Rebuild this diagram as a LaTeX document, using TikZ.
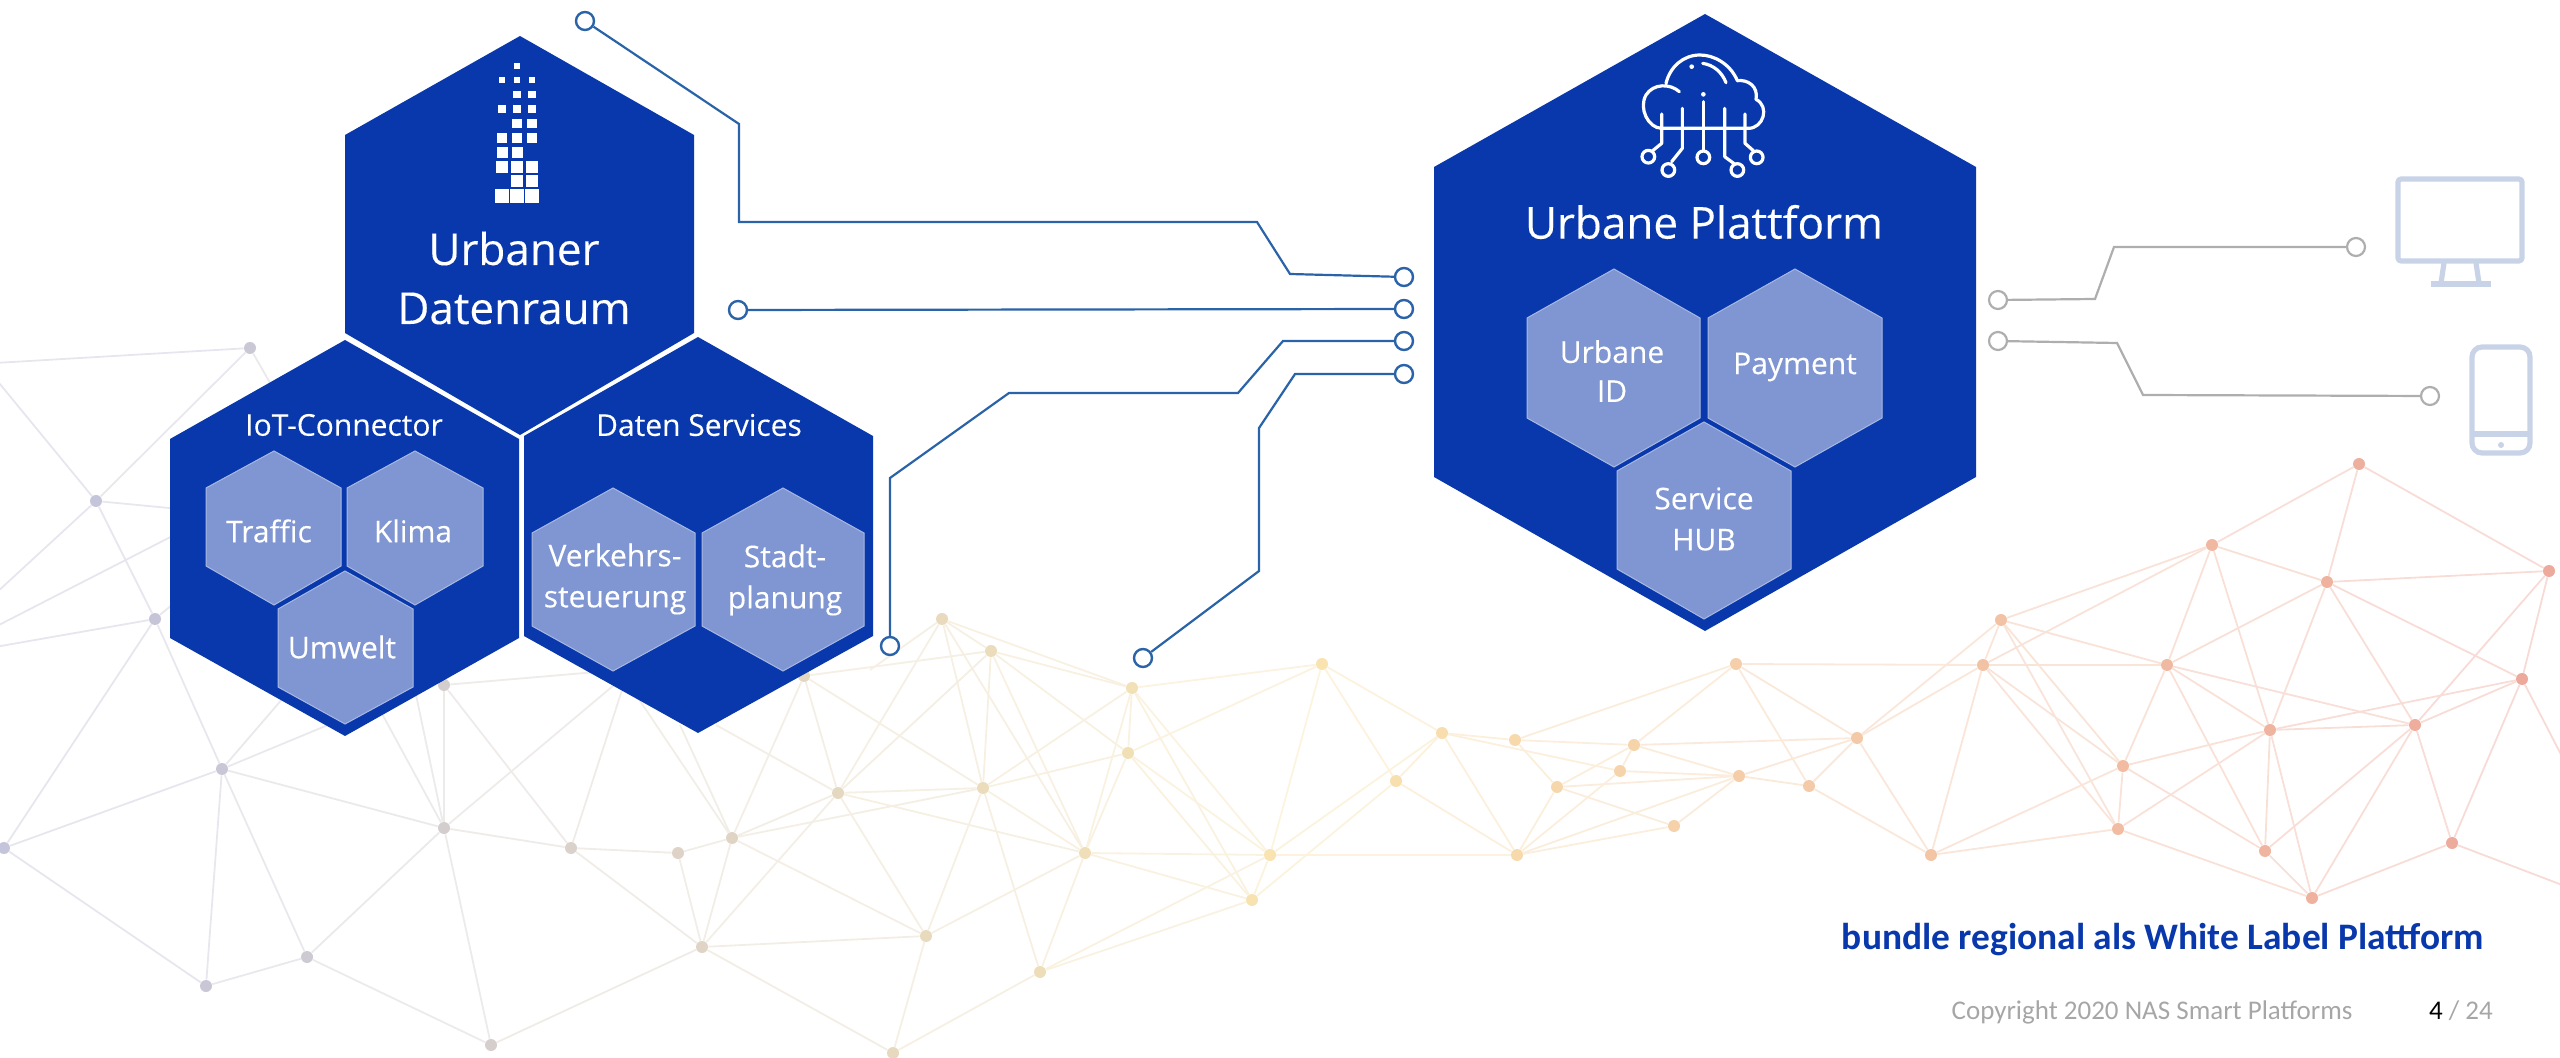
\documentclass[tikz,border=0pt]{standalone}
\usepackage{fontspec}
\setmainfont[FakeBold=0.2]{Open Sans}
\newfontfamily\calibrifont{Carlito}
\usetikzlibrary{calc}

\definecolor{hexblue}{HTML}{0838AB}
\definecolor{hexpale}{HTML}{7F96D2}
\definecolor{hexedge}{HTML}{A9B8E2}
\definecolor{wireblue}{HTML}{2A63A8}
\definecolor{wiregray}{HTML}{AEAEAE}
\definecolor{deviceblue}{HTML}{C8D3E8}
\definecolor{netleft}{HTML}{C4C4DA}
\definecolor{netmid}{HTML}{F9E4B0}
\definecolor{netright}{HTML}{EDA99C}

\newcommand{\netcolor}[1]{%
  \pgfmathsetmacro\netpct{min(100,abs(#1-650)/600*100)}%
  \ifdim#1pt<650pt\colorlet{netcur}{netleft!\netpct!netmid}\else\colorlet{netcur}{netright!\netpct!netmid}\fi}

\tikzset{
  hexdark/.style={fill=hexblue},
  hexlight/.style={fill=hexpale, draw=hexedge, line width=.5pt},
  hextext/.style={text=white, align=center, inner sep=0pt, font=\fontsize{15}{20.5}\selectfont},
  hexbig/.style={text=white, align=center, inner sep=0pt, font=\fontsize{22}{29.5}\selectfont},
  netdot/.style={circle, fill=netcur, inner sep=0pt, minimum size=6pt},
  netline/.style={draw=netcur!42!white, line width=.9pt},
  portblue/.style={circle, draw=wireblue, fill=white, line width=1.2pt, inner sep=0pt, minimum size=9pt},
  portgray/.style={circle, draw=wiregray, fill=white, line width=1.1pt, inner sep=0pt, minimum size=9pt},
  wireblue/.style={draw=wireblue, line width=1.1pt},
  wiregray/.style={draw=wiregray, line width=1.1pt},
  device/.style={draw=deviceblue, line width=2.6pt, line join=round},
}

\begin{document}
\begin{tikzpicture}[x=.5pt, y=-.5pt]
  \useasboundingbox (0,0) rectangle (2560,1058);

  % network in the background
  \foreach \n/\x/\y in {f1/-5/363, f2/-5/378, f3/-5/594, f4/-5/627, f5/-5/647,
      h1/190/510, h2/190/527, h3/190/590, h4/290/690, h5/340/720, h6/380/710, h7/415/690,
      h8/620/670, h9/620/680, h10/622/690, h11/636/695, h12/680/725, h13/716/725, h14/870/670,
      f6/2570/772, f7/2570/888}
    \coordinate (\n) at (\x,\y);
  \foreach \n/\x/\y in {l1/250/348, l2/96/501, l3/155/619, l4/222/769, l5/4/848, l6/206/986,
      l7/307/957, l8/444/828, l9/491/1045, l10/444/685, l11/571/848, l12/678/853, l13/732/838,
      l14/702/947, l15/838/793, l16/926/936, l17/893/1053, l18/804/676,
      y1/942/619, y2/991/651, y3/1132/688, y4/1128/753, y5/1322/664, y6/1442/733, y7/1396/781,
      y8/1515/740, y9/1634/745, y10/1620/771, y11/1557/787, y12/1739/776, y13/1674/826,
      y14/1517/855, y15/1270/855, y16/1252/900, y17/1085/853, y18/983/788, y21/1040/972, y23/1736/664,
      r1/2001/620, r2/1983/665, r3/1857/738, r4/1809/786, r5/1931/855, r6/2118/829, r7/2123/766,
      r8/2167/665, r9/2212/545, r10/2359/464, r11/2327/582, r12/2549/571, r13/2522/679,
      r14/2415/725, r15/2270/730, r16/2265/851, r17/2312/898, r18/2452/843} {
    \pgfmathsetmacro\netx{\x/2}
    \netcolor{\netx}
    \node[netdot] (\n) at (\x,\y) {};
  }
  \foreach \a/\b in {l1/f1, l1/l2, l1/l10, f2/l2, l2/f3, l2/l3, l3/l4, l2/h1, f4/h2, f5/l3, l3/h3,
      l4/l5, l4/l6, l4/l7, l4/l8, l3/l5, l4/h4, l4/h5, l5/l6, l6/l7, l7/l8, l8/l9, l8/l11, l8/l10,
      l8/h6, l8/h7, l10/l11, l10/h8, l8/h9, l11/l12, l11/l14, l11/h10, l12/l13, l12/l14, l13/l14,
      l13/h11, l13/h12, l13/l18, l13/l15, l13/y18, l13/l16, l9/l14, l7/l9, l14/l16, l14/l17, l14/l15,
      l15/l16, l16/l17, l17/y21, l15/l18, l15/y18, l15/h13,
      l18/y2, y1/h14, l18/y18, y1/y18, y1/l15, y1/y17, y1/y3, y1/y2, y2/y3, y2/y4, y2/y18, y2/y17,
      y2/l15, y3/y5, y3/y4, y3/y18, y3/y17, y3/y15, y3/y16, y4/y17, y4/y5, y4/y18, y4/y15, y4/y16,
      y5/y15, y5/y7, y5/y6, y6/y8, y6/y10, y6/y7, y6/y14, y6/y15, y7/y14, y7/y16, y8/y9, y8/y11,
      y8/y23, y9/y10, y9/y11, y9/y12, y9/y23, y9/r3, y10/y12, y10/y14, y11/y12, y11/y13, y11/y14,
      y12/y13, y12/y14, y13/y14, y12/r3, y12/r4, y15/y14, y15/y17, y15/y16, y15/y21, y16/y21, y16/y17,
      y17/l15, y17/l16, y17/y21, y17/y18, y18/l16, y18/y21, y23/r2, y23/r3, y23/r4,
      r1/r9, r1/r2, r1/r3, r1/r8, r1/r6, r1/r7, r2/r9, r2/r3, r2/r5, r2/r8, r2/r6, r2/r7, r3/r4, r3/r5,
      r4/r5, r5/r6, r5/r7, r6/r7, r6/r15, r6/r17, r7/r15, r7/r8, r7/r16, r8/r11, r8/r15, r8/r14, r8/r16,
      r8/r9, r9/r15, r9/r10, r9/r11, r10/r11, r10/r12, r11/r12, r11/r13, r11/r14, r11/r15, r12/r13,
      r12/r14, r13/r14, r13/r15, r13/r18, r13/f6, r14/r15, r14/r16, r14/r17, r14/r18, r15/r16, r15/r17,
      r16/r17, r17/r18, r18/f7} {
    \pgfpointanchor{\a}{center}\pgfgetlastxy{\xa}{\ya}
    \pgfpointanchor{\b}{center}\pgfgetlastxy{\xb}{\yb}
    \pgfmathsetmacro\netx{(\xa+\xb)/2}
    \netcolor{\netx}
    \draw[netline] (\a) -- (\b);
  }

  % large hexagons
  \path[hexdark] (520,36) -- (694,135) -- (694,333) -- (520,435) -- (345,333) -- (345,135) -- cycle;
  \path[hexdark] (345,340) -- (519,439) -- (519,638) -- (345,736) -- (170,638) -- (170,439) -- cycle;
  \path[hexdark] (698,337) -- (873,436) -- (873,636) -- (698,733) -- (524,636) -- (524,436) -- cycle;
  \path[hexdark] (1705,14) -- (1976,167) -- (1976,477) -- (1705,631) -- (1434,477) -- (1434,167) -- cycle;

  % small hexagons
  \path[hexlight] (274,451) -- (341,488) -- (341,566) -- (274,605) -- (206,566) -- (206,488) -- cycle;
  \path[hexlight] (415,451) -- (483,488) -- (483,566) -- (415,605) -- (347,566) -- (347,488) -- cycle;
  \path[hexlight] (345,571) -- (413,609) -- (413,687) -- (345,724) -- (278,687) -- (278,609) -- cycle;
  \path[hexlight] (613,488) -- (695,533) -- (695,626) -- (613,671) -- (532,626) -- (532,533) -- cycle;
  \path[hexlight] (783,488) -- (864,533) -- (864,626) -- (783,671) -- (702,626) -- (702,533) -- cycle;
  \path[hexlight] (1614,269) -- (1700,318) -- (1700,418) -- (1614,467) -- (1527,418) -- (1527,318) -- cycle;
  \path[hexlight] (1795,269) -- (1882,318) -- (1882,418) -- (1795,467) -- (1708,418) -- (1708,318) -- cycle;
  \path[hexlight] (1704,422) -- (1791,471) -- (1791,569) -- (1704,619) -- (1617,569) -- (1617,471) -- cycle;

  % labels
  \node[hexbig] (datenraum) at (514,278) {Urbaner\\Datenraum};
  \node[hexbig] (plattform) at (1704,222) {Urbane Plattform};
  \node[hextext] (iot) at (344,425) {IoT-Connector};
  \node[hextext] (services) at (699,425) {Daten Services};
  \node[hextext] (traffic) at (269,531) {Traffic};
  \node[hextext] (klima) at (413,531) {Klima};
  \node[hextext] (umwelt) at (342,647) {Umwelt};
  \node[hextext] (verkehr) at (615,579) {Verkehrs-\\steuerung};
  \node[hextext] (stadt) at (785,580) {Stadt-\\planung};
  \node[hextext, font=\fontsize{15}{19.5}\selectfont] (id) at (1612,371) {Urbane\\ID};
  \node[hextext] (payment) at (1795,367) {Payment};
  \node[hextext] (hub) at (1704,519) {Service\\HUB};

  % tower of squares
  \foreach \yy/\sz/\cols in {65.7/5.7/517, 80/6.7/{502,517,532}, 94.3/7.3/{517,532},
      108.7/8.3/{502,517,532}, 123.3/9.3/{517,532}, 138/10/{502,517,532}, 152.7/11/{502,517},
      167/11.7/{502,517,532}, 181.3/12.3/{517,532}, 196/13.7/{502,517,532}}
    \foreach \xx in \cols
      \fill[white] (\xx-\sz/2,\yy-\sz/2) rectangle (\xx+\sz/2,\yy+\sz/2);

  % cloud
  \begin{scope}[shift={(1620,30)}, x=.1667pt, y=-.1667pt, draw=white, line width=1.6pt, line cap=round, line join=round]
    \draw (178,185) .. controls (150,160) and (100,160) .. (78,195) .. controls (55,235) and (85,295) .. (125,295)
      -- (385,295) .. controls (430,295) and (450,230) .. (408,208) .. controls (415,170) and (385,148) .. (352,152)
      .. controls (330,100) and (280,75) .. (240,75) .. controls (190,75) and (150,110) .. (138,160);
    \draw (248,100) .. controls (280,105) and (305,125) .. (318,158);
    \fill[white] (215,110) circle (7);
    \fill[white] (250,193) circle (7);
    \draw (125,252) -- (125,340) -- (98,362);
    \draw (187,235) -- (187,355) -- (155,395);
    \draw (250,215) -- (250,360);
    \draw (314,235) -- (314,380) -- (345,403);
    \draw (375,252) -- (375,340) -- (400,362);
    \draw (85,380) circle (19);
    \draw (145,420) circle (19);
    \draw (250,382) circle (19);
    \draw (352,420) circle (19);
    \draw (410,382) circle (19);
  \end{scope}

  % wires
  \node[portblue] (pa) at (585,21) {};
  \node[portblue] (pb) at (738,310) {};
  \node[portblue] (pc) at (890,646) {};
  \node[portblue] (pd) at (1143,658) {};
  \node[portblue] (qa) at (1404,277) {};
  \node[portblue] (qb) at (1404,309) {};
  \node[portblue] (qc) at (1404,341) {};
  \node[portblue] (qd) at (1404,374) {};
  \draw[wireblue] (pa) -- (739,124) -- (739,222) -- (1257,222) -- (1290,274) -- (qa);
  \draw[wireblue] (pb) -- (qb);
  \draw[wireblue] (pc) -- (890,478) -- (1009,393) -- (1238,393) -- (1283,341) -- (qc);
  \draw[wireblue] (pd) -- (1259,571) -- (1259,428) -- (1295,374) -- (qd);

  \node[portgray] (ga) at (1998,300) {};
  \node[portgray] (gb) at (1998,341) {};
  \node[portgray] (gc) at (2356,247) {};
  \node[portgray] (gd) at (2430,396) {};
  \draw[wiregray] (ga) -- (2095,299) -- (2114,247) -- (gc);
  \draw[wiregray] (gb) -- (2117,343) -- (2143,395) -- (gd);

  % monitor and phone
  \draw[device, rounded corners=1.5pt] (2398,179) rectangle (2522,261);
  \draw[device] (2444,263) -- (2441,283) (2476,263) -- (2479,283);
  \draw[device] (2431,284) -- (2491,284);
  \draw[device, rounded corners=5pt] (2472,347) rectangle (2530,453);
  \draw[device] (2472,434) -- (2530,434);
  \fill[deviceblue] (2501,445) circle (3);

  % footer
  \node[text=hexblue, font=\calibrifont\bfseries\fontsize{18.7}{20}\selectfont, inner sep=0pt] (claim) at (2163,940) {bundle regional als White Label Plattform};
  \node[text=black!35, font=\calibrifont\fontsize{13.5}{16}\selectfont, inner sep=0pt] (copyright) at (2152,1012) {Copyright 2020 NAS Smart Platforms};
  \node[text=black!35, font=\calibrifont\fontsize{13.5}{16}\selectfont, inner sep=0pt] (pageno) at (2461,1011) {\textcolor{black}{4} / 24};
\end{tikzpicture}
\end{document}
